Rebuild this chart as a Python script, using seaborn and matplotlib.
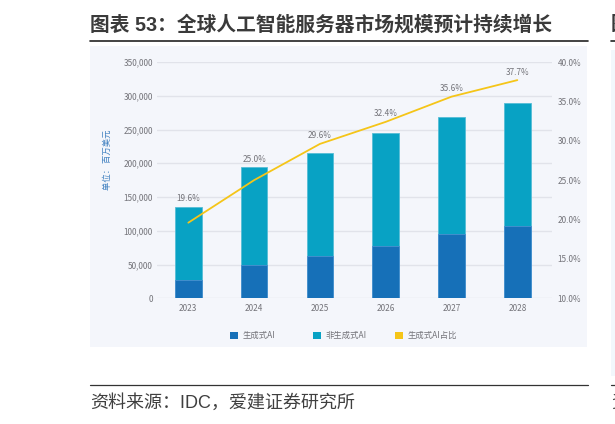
import matplotlib
matplotlib.use("Agg")
import matplotlib.pyplot as plt
from matplotlib.patches import Patch, Rectangle
from matplotlib.ticker import FuncFormatter
import numpy as np
import pandas as pd
import seaborn as sns

# --- data ---
YEARS = ["2023", "2024", "2025", "2026", "2027", "2028"]
GEN_AI = [26600, 49300, 62600, 77400, 95200, 107000]
NON_GEN_AI = [109100, 144700, 153000, 166900, 172800, 181800]
GEN_SHARE = [19.6, 25.0, 29.6, 32.4, 35.6, 37.7]
LEGEND_LABELS = ["生成式AI", "非生成式AI", "生成式AI占比"]

TITLE = "图表 53：全球人工智能服务器市场规模预计持续增长"
SOURCE = "资料来源：IDC，爱建证券研究所"
UNIT = "单位： 百万美元"

# --- colours ---
DARK_BLUE = "#1670b8"
TEAL = "#08a2c4"
YELLOW = "#f5c518"
TEXT_GREY = "#737379"
PANEL = "#f4f6fb"
GRID = "#e1e3ea"

W, H = 615, 424
PAGE = ["Liberation Sans", "Noto Sans CJK SC"]
TICK_SIZE = 5.9

sns.set_theme(style="white")
plt.rcParams["font.family"] = ["Noto Sans CJK SC", "DejaVu Sans"]


def fx(px):
    return px / W


def fy(px):
    return 1 - px / H


fig = plt.figure(figsize=(W / 100, H / 100), dpi=100, facecolor="white")

# panels behind the chart, the second one is the neighbour cut off by the page edge
fig.add_artist(Rectangle((fx(90), fy(347)), 497 / W, 301 / H, transform=fig.transFigure,
                         facecolor=PANEL, edgecolor="none", zorder=-5))
fig.add_artist(Rectangle((fx(611), fy(376)), 4 / W, 326 / H, transform=fig.transFigure,
                         facecolor="#f2f7fc", edgecolor="none", zorder=-5))

ax = fig.add_axes([fx(157), fy(298.3), 395 / W, 236.3 / H])
ax.patch.set_alpha(0)

df = pd.DataFrame({"year": YEARS, "gen": GEN_AI, "non_gen": NON_GEN_AI})
df["total"] = df["gen"] + df["non_gen"]

# stacked: full height in teal first, generative part over it
sns.barplot(data=df, x="year", y="total", color=TEAL, saturation=1, width=0.405,
            edgecolor="#55bdd6", linewidth=0.6, ax=ax, zorder=2)
sns.barplot(data=df, x="year", y="gen", color=DARK_BLUE, saturation=1, width=0.405,
            edgecolor="#4a90cf", linewidth=0.6, ax=ax, zorder=3)

ax.set_xlim(-0.476, 5.527)
ax.set_ylim(0, 350000)
ax.set_yticks(np.arange(0, 350001, 50000))
ax.yaxis.set_major_formatter(FuncFormatter(lambda v, _: f"{int(v):,}"))
ax.set_xlabel("")
ax.set_ylabel("")
ax.grid(axis="y", color=GRID, linewidth=1)
ax.set_axisbelow(True)
ax.tick_params(axis="both", length=0, labelsize=TICK_SIZE, labelcolor=TEXT_GREY)
ax.tick_params(axis="x", pad=4)
ax.tick_params(axis="y", pad=3)
sns.despine(ax=ax, left=True, right=True, top=True, bottom=True)

# share line on the right axis
ax2 = ax.twinx()
ax2.patch.set_alpha(0)
sns.lineplot(x=range(len(YEARS)), y=GEN_SHARE, color=YELLOW, linewidth=1.3, ax=ax2, zorder=5)
ax2.set_ylim(10, 40)
ax2.set_yticks(np.arange(10, 41, 5))
ax2.yaxis.set_major_formatter(FuncFormatter(lambda v, _: f"{v:.1f}%"))
ax2.tick_params(axis="y", length=0, labelsize=TICK_SIZE, labelcolor=TEXT_GREY, pad=4)
ax2.grid(False)
ax2.set_ylabel("")
sns.despine(ax=ax2, left=True, right=True, top=True, bottom=True)

# share labels sit above whichever is higher, the bar or the line
for i, share in enumerate(GEN_SHARE):
    bar_level = df["total"][i] / 350000 * 30 + 10
    ax2.annotate(f"{share:.1f}%", (i, max(share, bar_level)), xytext=(0, 5.8),
                 textcoords="offset points", ha="center", va="center",
                 fontsize=TICK_SIZE, color=TEXT_GREY, zorder=6)

# one legend per entry, the three are spaced evenly by marker position in the source
for label, colour, x_px in zip(LEGEND_LABELS, (DARK_BLUE, TEAL, YELLOW), (230, 313, 395)):
    fig.legend([Patch(facecolor=colour, edgecolor="none")], [label], loc="center left",
               frameon=False, bbox_to_anchor=(fx(x_px), fy(335.7)), fontsize=6,
               labelcolor=TEXT_GREY, handlelength=1.0, handleheight=1.0,
               handletextpad=0.45, borderaxespad=0, borderpad=0)

fig.text(fx(107.5), fy(160), UNIT, rotation=90, ha="center", va="center",
         fontsize=6, color="#3f80c0")

# header and footer of the report page
fig.text(fx(90), fy(25), TITLE, ha="left", va="center", fontsize=14.2,
         fontweight="bold", color="#3a3a3a", family=PAGE)
fig.text(fx(90), fy(403), SOURCE, ha="left", va="center", fontsize=13, color="#3f3f3f", family=PAGE)
fig.text(fx(611), fy(25), "图", ha="left", va="center", fontsize=14.2,
         fontweight="bold", color="#3a3a3a", family=PAGE)
fig.text(fx(611), fy(403), "资", ha="left", va="center", fontsize=13, color="#3f3f3f", family=PAGE)

for x0, x1 in ((90, 588), (611, 615)):
    fig.add_artist(plt.Line2D([fx(x0), fx(x1)], [fy(41), fy(41)], color="#222222", linewidth=1.2))
    fig.add_artist(plt.Line2D([fx(x0), fx(x1)], [fy(385), fy(385)], color="#333333", linewidth=0.9))

fig.savefig("out.png", dpi=100)
